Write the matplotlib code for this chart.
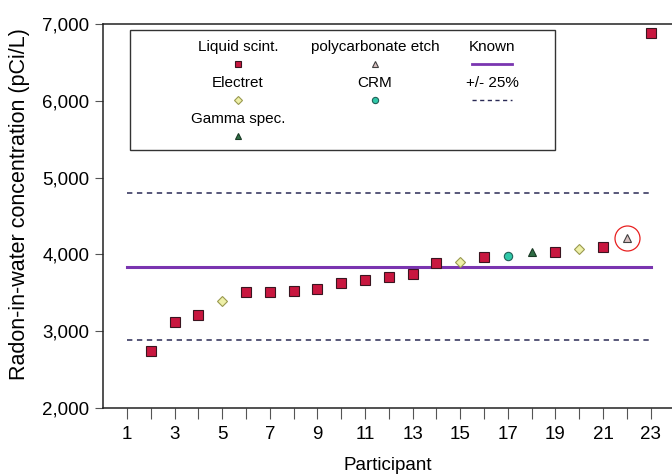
import numpy as np
import matplotlib
matplotlib.use("Agg")
import matplotlib.pyplot as plt
from matplotlib.patches import Rectangle

plt.rcParams['font.family'] = ['Liberation Sans', 'DejaVu Sans']

# participant results, grouped by method
liq_x = [2, 3, 4, 6, 7, 8, 9, 10, 11, 12, 13, 14, 16, 19, 21, 23]
liq_y = [2745, 3115, 3210, 3505, 3505, 3525, 3545, 3630, 3660, 3700, 3745, 3890, 3965, 4030, 4095, 6885]
ele_x = [5, 15, 20]
ele_y = [3395, 3895, 4065]
gam_x = [18]
gam_y = [4030]
poly_x = [22]
poly_y = [4215]
crm_x = [17]
crm_y = [3980]

known = 3840
band = [2880, 4800]   # +/- 25%
line_x = [1, 23]

fig = plt.figure(figsize=(6.72, 4.74), dpi=100)
ax = fig.add_axes([0.1537, 0.14, 0.8463, 0.809])

ax.plot(line_x, [known, known], color='#7a35b0', lw=2.2, zorder=2)
for b in band:
    ax.plot(line_x, [b, b], color='#2a2a55', lw=1.1, ls=(0, (3.5, 3)), zorder=2)

sq = dict(marker='s', ms=6.5, mfc='#c8173f', mec='#3a1520', mew=0.8, ls='none', zorder=3)
di = dict(marker='D', ms=5, mfc='#eef0a8', mec='#9a9a50', mew=0.8, ls='none', zorder=3)
gt = dict(marker='^', ms=6, mfc='#2f6e45', mec='#1a3a25', mew=0.8, ls='none', zorder=3)
pt = dict(marker='^', ms=6, mfc='#d8c0c0', mec='#404040', mew=0.8, ls='none', zorder=3)
ci = dict(marker='o', ms=6, mfc='#30c8a8', mec='#206058', mew=0.8, ls='none', zorder=3)

ax.plot(liq_x, liq_y, **sq)
ax.plot(ele_x, ele_y, **di)
ax.plot(gam_x, gam_y, **gt)
ax.plot(poly_x, poly_y, **pt)
ax.plot(crm_x, crm_y, **ci)
# red ring around the polycarbonate result
ax.plot(poly_x, poly_y, marker='o', ms=18, mfc='none', mec='#e82020', mew=0.9, ls='none', zorder=4)

ax.set_xlim(0, 23.9)
ax.set_ylim(2000, 7000)
ax.set_xticks(range(1, 24, 2))
ax.set_xticks(range(1, 24), minor=True)
ax.set_yticks(range(2000, 7001, 1000))
ax.set_yticklabels([f"{v:,}" for v in range(2000, 7001, 1000)])
ax.tick_params(axis='both', which='both', direction='out', length=8, width=0.8,
               color='#555555', labelsize=13.5)
ax.tick_params(axis='x', which='major', pad=5)
ax.tick_params(axis='y', length=6, pad=4)
ax.spines['right'].set_visible(False)
for s in ['left', 'bottom', 'top']:
    ax.spines[s].set_linewidth(1.1)
    ax.spines[s].set_color('#222222')

ax.set_xlabel('Participant', fontsize=13.5, labelpad=10)
ax.set_ylabel('Radon-in-water concentration (pCi/L)', fontsize=15.5)
ax.yaxis.set_label_coords(-0.128, 0.53)

# R-style legend: label above its symbol, placed in figure pixels
tr = ax.transAxes
def px(x, y):
    return ((x - 103.3) / (672 - 103.3), (407.7 - y) / 383.7)

x0, y0 = px(130, 150)
x1, y1 = px(555, 30)
ax.add_patch(Rectangle((x0, y0), x1 - x0, y1 - y0, transform=tr, fill=True,
                       fc='white', ec='#333333', lw=1.0, zorder=5))

entries = [
    (238, 47, 'Liquid scint.', sq),
    (375, 47, 'polycarbonate etch', pt),
    (492, 47, 'Known', None),
    (238, 83, 'Electret', di),
    (375, 83, 'CRM', ci),
    (492, 83, '+/- 25%', 'dash'),
    (238, 119, 'Gamma spec.', gt),
]
for cx, cy, lab, st in entries:
    tx, ty = px(cx, cy)
    ax.text(tx, ty, lab, transform=tr, ha='center', va='center', fontsize=11, zorder=6)
    mx, my = px(cx, cy + 17)
    if st is None:
        ax.plot([mx - 0.035, mx + 0.035], [my, my], transform=tr, color='#7a35b0', lw=2, zorder=6)
    elif st == 'dash':
        ax.plot([mx - 0.035, mx + 0.035], [my, my], transform=tr, color='#2a2a55', lw=1,
                ls=(0, (3, 2.5)), zorder=6)
    else:
        s = dict(st)
        s['ms'] = s['ms'] * 0.75
        s['zorder'] = 6
        ax.plot([mx], [my], transform=tr, **s)

fig.savefig('out.png', dpi=100)
